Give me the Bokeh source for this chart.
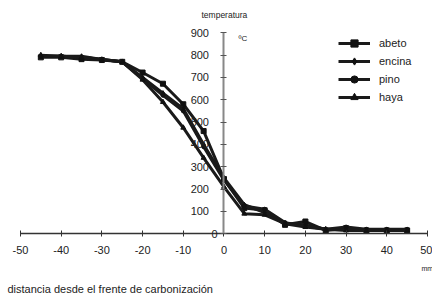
from bokeh.plotting import figure
from bokeh.models import LinearAxis, Range1d, Label, Legend, LegendItem, FixedTicker
from bokeh.embed import file_html
from bokeh.resources import INLINE

# ---- data ----
distance = [-45, -40, -35, -30, -25, -20, -15, -10, -5, 0, 5, 10, 15, 20, 25, 30, 35, 40, 45]
abeto = [790, 790, 782, 778, 770, 722, 672, 580, 460, 245, 115, 105, 40, 55, 15, 25, 15, 15, 15]
encina = [795, 795, 795, 780, 770, 700, 630, 560, 400, 250, 130, 95, 45, 40, 20, 20, 15, 15, 15]
pino = [795, 795, 790, 780, 770, 695, 620, 550, 390, 240, 125, 110, 50, 35, 20, 30, 20, 20, 20]
haya = [800, 795, 790, 780, 770, 690, 590, 475, 340, 210, 90, 85, 45, 30, 20, 15, 15, 15, 15]
x_ticks = [-50, -40, -30, -20, -10, 0, 10, 20, 30, 40, 50]
y_ticks = [0, 100, 200, 300, 400, 500, 600, 700, 800, 900]
series = [("abeto", abeto, "square", 5), ("encina", encina, "diamond", 5),
          ("pino", pino, "circle", 4), ("haya", haya, "triangle", 5)]

W, H = 432, 297
x0, x1 = -54.91, 51.23
y0, y1 = -285.3, 1044.6
FONT = "Liberation Sans"

def dx(px):
    return x0 + px * (x1 - x0) / W

def dy(py):
    return y1 - py * (y1 - y0) / H

p = figure(width=W, height=H, output_backend="svg", toolbar_location=None,
           x_range=Range1d(x0, x1), y_range=Range1d(y0, y1),
           x_axis_location=None, y_axis_location=None, min_border=0)
p.outline_line_color = None
p.xgrid.visible = False
p.ygrid.visible = False
p.background_fill_color = "white"

xa = LinearAxis(fixed_location=0, bounds=(-50, 50), ticker=FixedTicker(ticks=x_ticks))
xa.axis_line_color = "#333333"
xa.axis_line_width = 1.5
xa.major_tick_line_color = "#333333"
xa.major_tick_in = 3
xa.major_tick_out = 3
xa.minor_tick_line_color = None
xa.major_label_standoff = 9
xa.major_label_text_font = FONT
xa.major_label_text_font_size = "11px"
xa.major_label_text_color = "#222222"
xa.major_label_overrides = {t: str(t) for t in x_ticks}
p.add_layout(xa, "below")

ya = LinearAxis(fixed_location=0, bounds=(0, 900), ticker=FixedTicker(ticks=y_ticks))
ya.axis_line_color = "#888888"
ya.axis_line_width = 2
ya.major_tick_line_color = "#555555"
ya.major_tick_in = 3
ya.major_tick_out = 3
ya.minor_tick_line_color = None
ya.major_label_standoff = 12
ya.major_label_text_font = FONT
ya.major_label_text_font_size = "11px"
ya.major_label_text_color = "#222222"
ya.major_label_overrides = {0: ""}
p.add_layout(ya, "left")

items = []
for name, vals, marker, size in series:
    r1 = p.line(distance, vals, line_color="#1a1a1a", line_width=3, line_join="round")
    r2 = p.scatter(distance, vals, marker=marker, size=size, color="#111111")
    items.append(LegendItem(label=name, renderers=[r1, r2]))

leg = Legend(items=items, location=(338, 191), glyph_width=32, glyph_height=18,
             label_height=18, label_standoff=9, spacing=0, padding=0, margin=0,
             border_line_alpha=0, background_fill_alpha=0,
             label_text_font=FONT, label_text_font_size="11px", label_text_color="#222222")
p.add_layout(leg, "center")

def lab(text, px, py, size, align="left", color="#222222"):
    p.add_layout(Label(x=dx(px), y=dy(py), text=text, text_font=FONT, text_font_size=size,
                       text_align=align, text_baseline="middle", text_color=color))

lab("temperatura", 201, 14, "8.5px")
lab("ºC", 238, 38, "8px")
lab("mm", 421, 268, "7px")
lab("0", 217, 233, "11px", align="right")
lab("distancia desde el frente de carbonización", 7, 288, "11px")

open("out.html", "w").write(file_html(p, INLINE))
